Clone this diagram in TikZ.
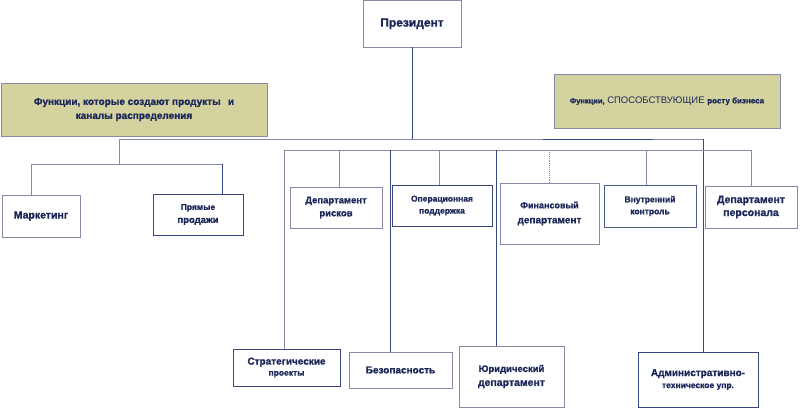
\documentclass[tikz,border=0pt]{standalone}
\usepackage{fontspec}
\setmainfont{Liberation Sans}[BoldFeatures={FakeBold=1.2}]
\definecolor{navy}{RGB}{58,72,130}
\definecolor{grayline}{RGB}{132,138,168}
\definecolor{txt}{RGB}{28,40,90}
\definecolor{khaki}{RGB}{212,211,160}
\begin{document}
\begin{tikzpicture}[x=1pt,y=-1pt,
  box/.style={draw=navy, line width=0.9pt, fill=white, inner sep=1pt, align=center, text=txt,
    font=\bfseries\fontsize{9.5}{12}\selectfont},
  gbox/.style={box, draw=grayline},
  lbl/.style={gbox, fill=khaki},
  ln/.style={navy, line width=0.9pt},
  gln/.style={grayline, line width=0.9pt},
  dln/.style={grayline, line width=0.9pt, densely dotted}]
\useasboundingbox (0,0) rectangle (800,412);

% boxes
\node[gbox, minimum width=98, minimum height=46.5, font=\bfseries\fontsize{12}{14}\selectfont] (pres) at (412,23.75) {Президент};
\node[lbl, minimum width=266, minimum height=53, font=\bfseries\fontsize{10}{14}\selectfont] (lblL) at (134,109.5) {Функции, которые создают продукты \, и\\каналы распределения};
\node[lbl, minimum width=226, minimum height=54] (lblR) at (667,101) {{\fontsize{7.5}{9}\selectfont Функции,} {\mdseries\fontsize{9.5}{11}\selectfont СПОСОБСТВУЮЩИЕ} {\fontsize{8}{9}\selectfont росту бизнеса}};

\node[gbox, minimum width=78, minimum height=42, font=\bfseries\fontsize{10.5}{12}\selectfont] (mkt) at (41,216) {Маркетинг};
\node[box, minimum width=90, minimum height=41, font=\bfseries\fontsize{8.5}{13}\selectfont] (sales) at (198,214.5) {Прямые\\{\fontsize{9.5}{11}\selectfont продажи}};
\node[gbox, minimum width=92, minimum height=41, font=\bfseries\fontsize{9.5}{13}\selectfont] (risk) at (336,207.5) {Департамент\\рисков};
\node[box, minimum width=100, minimum height=41, font=\bfseries\fontsize{8.5}{12}\selectfont] (ops) at (442,205.5) {Операционная\\поддержка};
\node[gbox, minimum width=99, minimum height=61, font=\bfseries\fontsize{9}{15}\selectfont] (fin) at (549.5,213.5) {Финансовый\\{\fontsize{10}{12}\selectfont департамент}};
\node[gbox, draw=navy!70!grayline, minimum width=92, minimum height=42, font=\bfseries\fontsize{8.5}{12}\selectfont] (ctrl) at (650,206) {Внутренний\\контроль};
\node[gbox, minimum width=92, minimum height=42, font=\bfseries\fontsize{10.5}{13}\selectfont] (pers) at (751,207) {Департамент\\персонала};

\node[box, minimum width=107, minimum height=37, font=\bfseries\fontsize{10}{11}\selectfont] (strat) at (286.5,367.5) {Стратегические\\{\fontsize{8.5}{10}\selectfont проекты}};
\node[gbox, minimum width=103, minimum height=36, font=\bfseries\fontsize{10}{12}\selectfont] (sec) at (400.5,370) {Безопасность};
\node[gbox, minimum width=105, minimum height=61, font=\bfseries\fontsize{9.5}{14}\selectfont] (law) at (511.5,376.5) {Юридический\\{\fontsize{10.5}{12}\selectfont департамент}};
\node[box, minimum width=120, minimum height=55, font=\bfseries\fontsize{10}{12}\selectfont] (adm) at (698,379.5) {Административно-\\{\fontsize{8.5}{10}\selectfont техническое упр.}};

% buses
\coordinate (b1L) at (119,139);
\coordinate (b1M) at (543,139);
\coordinate (b1N) at (653,139);
\coordinate (b1R) at (703,139);
\coordinate (l1) at (119,164);
\coordinate (l1L) at (31,164);
\coordinate (l1R) at (222,164);
\coordinate (b2L) at (284,150);
\coordinate (b2R) at (751,150);
\coordinate (d1) at (339,150);
\coordinate (d2) at (390,150);
\coordinate (d3) at (439,150);
\coordinate (d4) at (496,150);
\coordinate (d5) at (549,150);
\coordinate (d6) at (646,150);

\draw[ln] (pres.south) -- (pres.south |- b1L);
\draw[gln] (b1L) -- (b1M);
\draw[ln] (b1M) -- (b1N);
\draw[gln] (b1N) -- (b1R);
\draw[ln] (b1R) -- (b1R |- adm.north);

\draw[gln] (b1L) -- (l1);
\draw[gln] (l1L) -- (l1R);
\draw[gln] (l1L) -- (l1L |- mkt.north);
\draw[ln] (l1R) -- (l1R |- sales.north);

\draw[gln] (b2L) -- (b2R);
\draw[gln] (b2L) -- (b2L |- strat.north);
\draw[gln] (d1) -- (d1 |- risk.north);
\draw[ln] (d2) -- (d2 |- sec.north);
\draw[gln] (d3) -- (d3 |- ops.north);
\draw[ln] (d4) -- (d4 |- law.north);
\draw[dln] (d5) -- (d5 |- fin.north);
\draw[gln] (d6) -- (d6 |- ctrl.north);
\draw[gln] (b2R) -- (b2R |- pers.north);
\end{tikzpicture}
\end{document}
